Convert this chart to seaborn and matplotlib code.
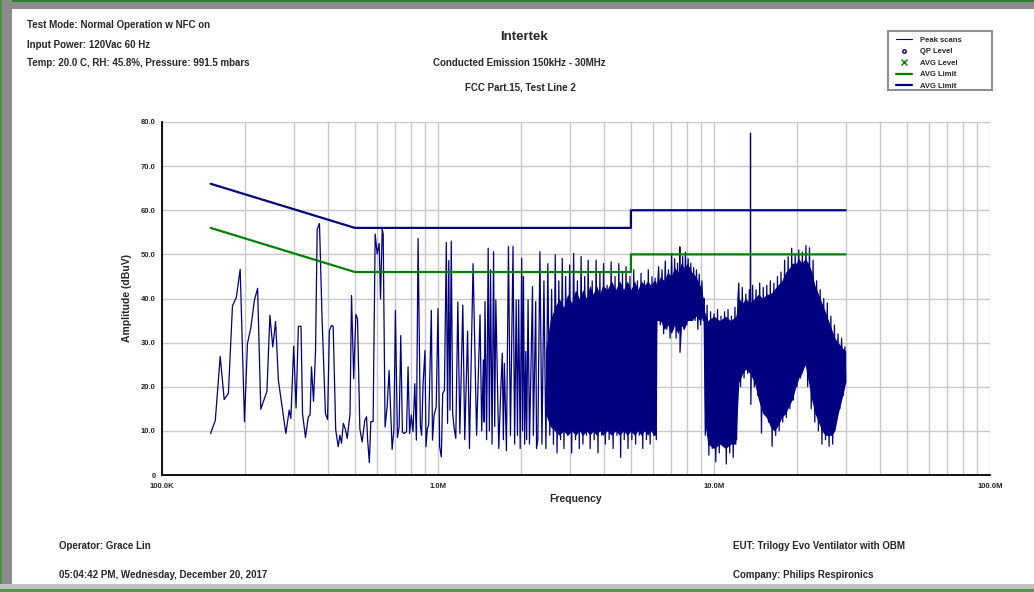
import matplotlib
matplotlib.use("Agg")
import matplotlib.pyplot as plt
import seaborn as sns
import numpy as np
from matplotlib.lines import Line2D
from matplotlib.patches import Rectangle
from matplotlib.ticker import FixedLocator, NullFormatter

# ---- data (frequency in kHz, level in dBuV) ----
# sparse part of the peak scan, 150 kHz .. 2.3 MHz
sparse_khz = [150, 156, 162.5, 168, 174, 180, 186, 192, 199, 204, 210, 216, 222, 228, 240, 246, 252,
              258, 264, 281, 289, 293, 300, 306, 312, 319, 323, 331, 339, 344, 348, 354, 360, 365, 372,
              380, 391, 398, 404, 411, 417, 426, 435, 441, 447, 454, 462, 469, 480, 486, 495, 504, 511,
              521, 531, 543, 551, 556, 564, 571, 582, 592, 602, 612, 619, 628, 633, 643, 654, 665, 682,
              692, 701, 713, 723, 733, 743, 754, 769, 779, 789, 800, 812, 824, 835, 847, 863, 872, 883,
              897, 905, 915, 925, 946, 955, 968, 985, 1000, 1014, 1028, 1040, 1055, 1072, 1083, 1094,
              1105, 1117, 1130, 1145, 1160, 1180, 1200, 1230, 1250, 1280, 1300, 1340, 1380, 1420, 1440,
              1460, 1470, 1480, 1500, 1520, 1535, 1550, 1570, 1590, 1605, 1620, 1660, 1690, 1710, 1725,
              1740, 1770, 1800, 1830, 1870, 1895, 1920, 1940, 1960, 1985, 2010, 2025, 2040, 2060, 2080,
              2095, 2120, 2145, 2200, 2215, 2260, 2275]
sparse_db = [9.4, 12.4, 26.9, 17.1, 18.5, 38.3, 40.3, 46.6, 12.1, 29.8, 33.5, 39.5, 42.3, 14.9, 19.0, 36.2,
             29.0, 34.8, 21.5, 9.4, 14.7, 12.8, 29.2, 15.2, 33.7, 33.7, 13.9, 8.5, 13.2, 13.6, 24.5, 16.7,
             28.2, 55.7, 57.0, 35.8, 13.9, 12.6, 32.6, 33.9, 33.7, 10.2, 6.4, 9.0, 7.2, 11.7, 10.3, 8.3,
             13.9, 40.7, 21.8, 36.4, 35.4, 10.5, 7.5, 12.4, 13.2, 7.9, 2.8, 12.1, 12.1, 54.6, 50.1, 52.5,
             39.9, 55.7, 54.6, 10.9, 15.4, 23.7, 5.8, 10.2, 37.3, 8.5, 10.9, 31.6, 9.8, 9.4, 9.8, 24.5,
             9.4, 13.6, 9.8, 20.7, 7.9, 53.6, 11.3, 9.0, 20.7, 28.2, 6.4, 10.5, 11.3, 37.3, 7.9, 13.6,
             15.4, 37.7, 6.4, 4.1, 18.5, 19.2, 52.7, 11.7, 48.6, 14.7, 53.0, 13.9, 10.5, 8.3, 39.2, 9.4,
             38.5, 8.0, 32.6, 6.0, 47.9, 9.0, 36.3, 10.0, 26.1, 12.0, 39.3, 8.0, 51.4, 10.0, 46.5, 7.0,
             50.6, 11.0, 39.7, 6.0, 20.0, 27.6, 8.0, 25.3, 5.5, 51.8, 9.0, 51.8, 7.0, 39.7, 9.0, 39.7,
             6.0, 49.1, 10.0, 45.0, 7.0, 28.0, 8.0, 39.7, 7.0, 42.7, 9.0, 39.3, 6.0]

# dense part of the peak scan, 2.3 MHz .. 30 MHz (peaks and troughs)
dense_khz = [2300, 2340, 2380, 2420, 2460, 2500, 2540, 2580, 2620, 2660, 2700, 2740, 2780, 2820, 2860,
             2900, 2950, 3000, 3050, 3100, 3150, 3200, 3250, 3300, 3350, 3400, 3450, 3500, 3560, 3620,
             3680, 3740, 3800, 3860, 3920, 3980, 4040, 4100, 4170, 4240, 4310, 4380, 4450, 4520, 4590,
             4660, 4730, 4800, 4880, 4960, 5040, 5120, 5200, 5280, 5360, 5440, 5520, 5600, 5690, 5780,
             5870, 5960, 6050, 6120, 6180,
             6210, 6300, 6390, 6480, 6570, 6660, 6750, 6840, 6930, 7020, 7110, 7200, 7290, 7380, 7460,
             7520, 7530, 7610, 7700, 7790, 7880, 7970, 8060, 8150, 8240, 8340, 8440, 8540, 8640, 8740,
             8840, 8940, 9040, 9140, 9200,
             9300, 9440, 9580, 9720, 9860, 10000, 10150, 10300, 10450, 10600, 10760, 10920, 11080,
             11240, 11400, 11570, 11740, 11910, 12080, 12200,
             12300, 12480, 12660, 12850, 13040, 13240, 13430, 13530, 13560, 13600, 13800, 14000, 14200,
             14420, 14640, 14860, 15080, 15300, 15530, 15760, 16000, 16240, 16480, 16730, 16980, 17230,
             17490, 17750, 18020, 18290, 18560, 18840, 19120, 19400, 19690, 19990, 20290, 20590, 20900,
             21210, 21530, 21850, 22180, 22510, 22850, 23190, 23540, 23890, 24250, 24610, 24980, 25350,
             25730, 26120, 26510, 26910, 27310, 27720, 28140, 28560, 28990, 29420, 29800, 30000]
dense_db = [8, 50.6, 7, 44, 6, 47.9, 9, 42, 7, 49.9, 5, 44, 8, 49.1, 6,
            45, 9, 47.6, 5, 50.2, 8, 44, 6, 49.5, 7, 45, 9, 48.7, 6, 44,
            8, 48.7, 5, 46, 9, 47.9, 7, 43, 8, 48.3, 6, 45, 9, 47.9, 4,
            46, 8, 47.2, 6, 45, 8, 46.5, 7, 44, 9, 45.7, 6, 44, 8, 46.5,
            7, 44.9, 9, 44.6, 8,
            40, 47.2, 34, 46.5, 32, 48.5, 33, 46.5, 31, 50.2, 33, 49.0, 31, 48, 33,
            51.7, 27.8, 33, 49.5, 33, 50.5, 34, 49, 35, 48, 35, 47, 35, 46.5, 33,
            45.5, 34, 44, 35, 40,
            9, 38.5, 4.5, 37, 6, 36.5, 3, 37.5, 5, 36, 7, 37, 2.5,
            37.5, 5, 36, 4, 38, 8, 39.6,
            43.5, 20, 42.5, 22, 41, 23, 42, 30, 77.5, 16, 43, 20, 42,
            18, 43.5, 9.5, 42.5, 14, 43, 12, 44, 6.5, 43.5, 9, 45, 10,
            46, 12, 48.7, 13, 49.5, 15, 51.4, 17, 50.2, 20, 51, 22, 50.5,
            25, 52, 20, 51.5, 15, 48.7, 12, 44, 10, 42, 7, 40, 8,
            39, 6.5, 36, 7, 34, 12, 32, 15, 31, 18, 29, 21]

# solid body of the dense part (lower / upper edge)
band_khz = [2450, 2550, 2650, 2750, 2850, 2950, 3050, 3150, 3250, 3350, 3450, 3550, 3650, 3750, 3850,
            3950, 4100, 4250, 4400, 4550, 4700, 4850, 5000, 5150, 5300, 5450, 5600, 5750, 5900, 6050,
            6150,
            6200, 6400, 6600, 6800, 7000, 7200, 7400, 7600, 7800, 8000, 8300, 8600, 8900, 9150,
            9250, 9500, 10000, 10500, 11000, 11500, 12000,
            12300, 12700, 13000, 13500, 14000, 14500, 15000, 15500, 16000, 16500, 17000, 17600, 18200,
            18800, 19200, 19800, 20300, 20800, 21400, 22000, 22600, 23200, 23900, 24600, 25300, 26000,
            26700, 27400, 28200, 29000, 30000]
band_low = [14, 11, 10, 9, 10, 9, 10, 9, 10, 9, 10, 9, 10, 9, 10,
            9, 10, 9, 10, 9, 10, 9, 10, 9, 10, 9, 10, 9, 10, 9,
            9,
            35, 35, 33, 34, 32, 34, 32, 34, 33, 35, 35, 36, 35, 36,
            12, 7, 6, 7, 6, 7, 7,
            21, 23, 24, 23, 21, 17, 14, 13, 11, 10, 11, 13, 14,
            16, 17, 20, 22, 23, 25, 21, 17, 14, 12, 10, 9, 9,
            9, 10, 14, 17, 21]
band_high = [28, 35, 38, 40, 38, 41, 39, 42, 40, 42, 40, 43, 41, 43, 41,
             43, 42, 44, 42, 44, 42, 44, 42, 44, 42, 44, 43, 44, 43, 44,
             44,
             43, 45, 44, 46, 45, 47, 46, 48, 47, 48, 46, 45, 43, 40,
             37, 35, 36, 35, 36, 35, 36,
             40, 39, 40, 39, 40, 41, 40, 41, 41, 42, 43, 44, 46,
             47, 48, 48, 49, 48, 49, 48, 46, 43, 41, 39, 37, 35,
             33, 31, 30, 29, 28]

limit_khz = [150, 500, 5000, 5000, 30000]
qp_limit = [66, 56, 56, 60, 60]
avg_limit = [56, 46, 46, 50, 50]

NAVY = "#000080"
GREEN = "#008000"

sns.set_style("white")
plt.rcParams["font.family"] = ["Liberation Sans", "DejaVu Sans"]
plt.rcParams["font.weight"] = "bold"

W, H = 1034, 592
fig = plt.figure(figsize=(W / 100, H / 100), dpi=100)
fig.patch.set_facecolor("white")

# window frame (grey bevel + green edge)
def px_rect(x, y, w, h, color, **kw):
    r = Rectangle((x / W, 1 - (y + h) / H), w / W, h / H, transform=fig.transFigure,
                  facecolor=color, **kw)
    fig.add_artist(r)
    return r

px_rect(0, 0, W, 9, "#8c8c8c", edgecolor="none", zorder=-5)
px_rect(0, 0, W, 1.5, "#2e7d2e", edgecolor="none", zorder=-5)
px_rect(0, 0, 12, H, "#8c8c8c", edgecolor="none", zorder=-5)
px_rect(0, 0, 1.5, H, "#4a8a4a", edgecolor="none", zorder=-5)
px_rect(0, 584, W, 8, "#c0c0c0", edgecolor="none", zorder=-5)
px_rect(0, 589, W, 3, "#4c9a4c", edgecolor="none", zorder=-5)

ax = fig.add_axes([162 / W, 1 - 475 / H, (990 - 162) / W, (475 - 122) / H])
ax.set_facecolor("white")

scan_hz = np.array(sparse_khz + dense_khz) * 1e3
scan_db = sparse_db + dense_db
band_hz = np.array(band_khz) * 1e3
lim_hz = np.array(limit_khz) * 1e3

ax.fill_between(band_hz, band_low, band_high, color=NAVY, linewidth=0, zorder=3)
sns.lineplot(x=scan_hz, y=scan_db, sort=False, estimator=None, color=NAVY, linewidth=0.9, ax=ax, zorder=4)
sns.lineplot(x=lim_hz, y=avg_limit, sort=False, estimator=None, color=GREEN, linewidth=1.6, ax=ax, zorder=5)
sns.lineplot(x=lim_hz, y=qp_limit, sort=False, estimator=None, color=NAVY, linewidth=1.6, ax=ax, zorder=5)

ax.set_xscale("log")
ax.set_xlim(1e5, 1e8)
ax.set_ylim(0, 80)

ax.xaxis.set_major_locator(FixedLocator([1e5, 1e6, 1e7, 1e8]))
ax.set_xticklabels(["100.0K", "1.0M", "10.0M", "100.0M"])
minors = [m * 10 ** e for e in (5, 6, 7) for m in range(2, 10)]
ax.xaxis.set_minor_locator(FixedLocator(minors))
ax.xaxis.set_minor_formatter(NullFormatter())
ax.set_yticks(range(0, 81, 10))
ax.set_yticklabels(["0"] + [f"{v:.1f}" for v in range(10, 81, 10)])
ax.yaxis.set_minor_locator(FixedLocator(range(0, 81, 2)))

ax.tick_params(which="both", direction="inout", length=5, width=1, color="black",
               labelsize=5.5, pad=2)
ax.tick_params(axis="x", which="both", pad=3)
for lab in ax.get_xticklabels() + ax.get_yticklabels():
    lab.set_fontweight("bold")

ax.grid(True, which="major", axis="both", color="#c8c8c8", linewidth=1, zorder=0)
ax.grid(True, which="minor", axis="x", color="#c8c8c8", linewidth=1, zorder=0)
ax.set_axisbelow(True)
for side in ("top", "right"):
    ax.spines[side].set_visible(False)
for side in ("left", "bottom"):
    ax.spines[side].set_color("black")
    ax.spines[side].set_linewidth(1.3)
ax.set_xlabel("")
ax.set_ylabel("")

def ftxt(x, y, s, size=7, ha="left", **kw):
    fig.text(x / W, 1 - y / H, s, fontsize=size, ha=ha, va="center", fontweight="bold", **kw)

ftxt(27, 25, "Test Mode: Normal Operation w NFC on")
ftxt(27, 45, "Input Power: 120Vac 60 Hz")
ftxt(27, 63, "Temp: 20.0 C, RH: 45.8%, Pressure: 991.5 mbars")
ftxt(524, 37, "Intertek", size=9.5, ha="center")
ftxt(519, 63, "Conducted Emission 150kHz - 30MHz", ha="center")
ftxt(520, 87, "FCC Part.15, Test Line 2", ha="center")
ftxt(127, 298, "Amplitude (dBuV)", size=7.5, ha="center", rotation=90)
ftxt(576, 499, "Frequency", size=7.5, ha="center")
ftxt(59, 546, "Operator: Grace Lin")
ftxt(59, 575, "05:04:42 PM, Wednesday, December 20, 2017")
ftxt(733, 546, "EUT: Trilogy Evo Ventilator with OBM")
ftxt(733, 575, "Company: Philips Respironics")

# legend box drawn as its own frame, legend entries inside it
px_rect(888, 31, 104, 59, "white", edgecolor="#909090", linewidth=1.5, zorder=2)
handles = [
    Line2D([], [], color=NAVY, linewidth=0.8),
    Line2D([], [], color=NAVY, marker="o", markersize=2.5, markerfacecolor="none", linestyle="none"),
    Line2D([], [], color=GREEN, marker="x", markersize=5, linestyle="none"),
    Line2D([], [], color=GREEN, linewidth=1.6),
    Line2D([], [], color=NAVY, linewidth=1.6),
]
labels = ["Peak scans", "QP Level", "AVG Level", "AVG Limit", "AVG Limit"]
leg = fig.legend(handles, labels, loc="upper left", bbox_to_anchor=(894 / W, 1 - 34 / H),
                 fontsize=5.5, frameon=False, borderaxespad=0, handlelength=2.1,
                 handletextpad=1.05, labelspacing=0.55, borderpad=0.3)
leg.set_zorder(3)
for t in leg.get_texts():
    t.set_fontweight("bold")

fig.savefig("out.png", dpi=100, facecolor=fig.get_facecolor())
